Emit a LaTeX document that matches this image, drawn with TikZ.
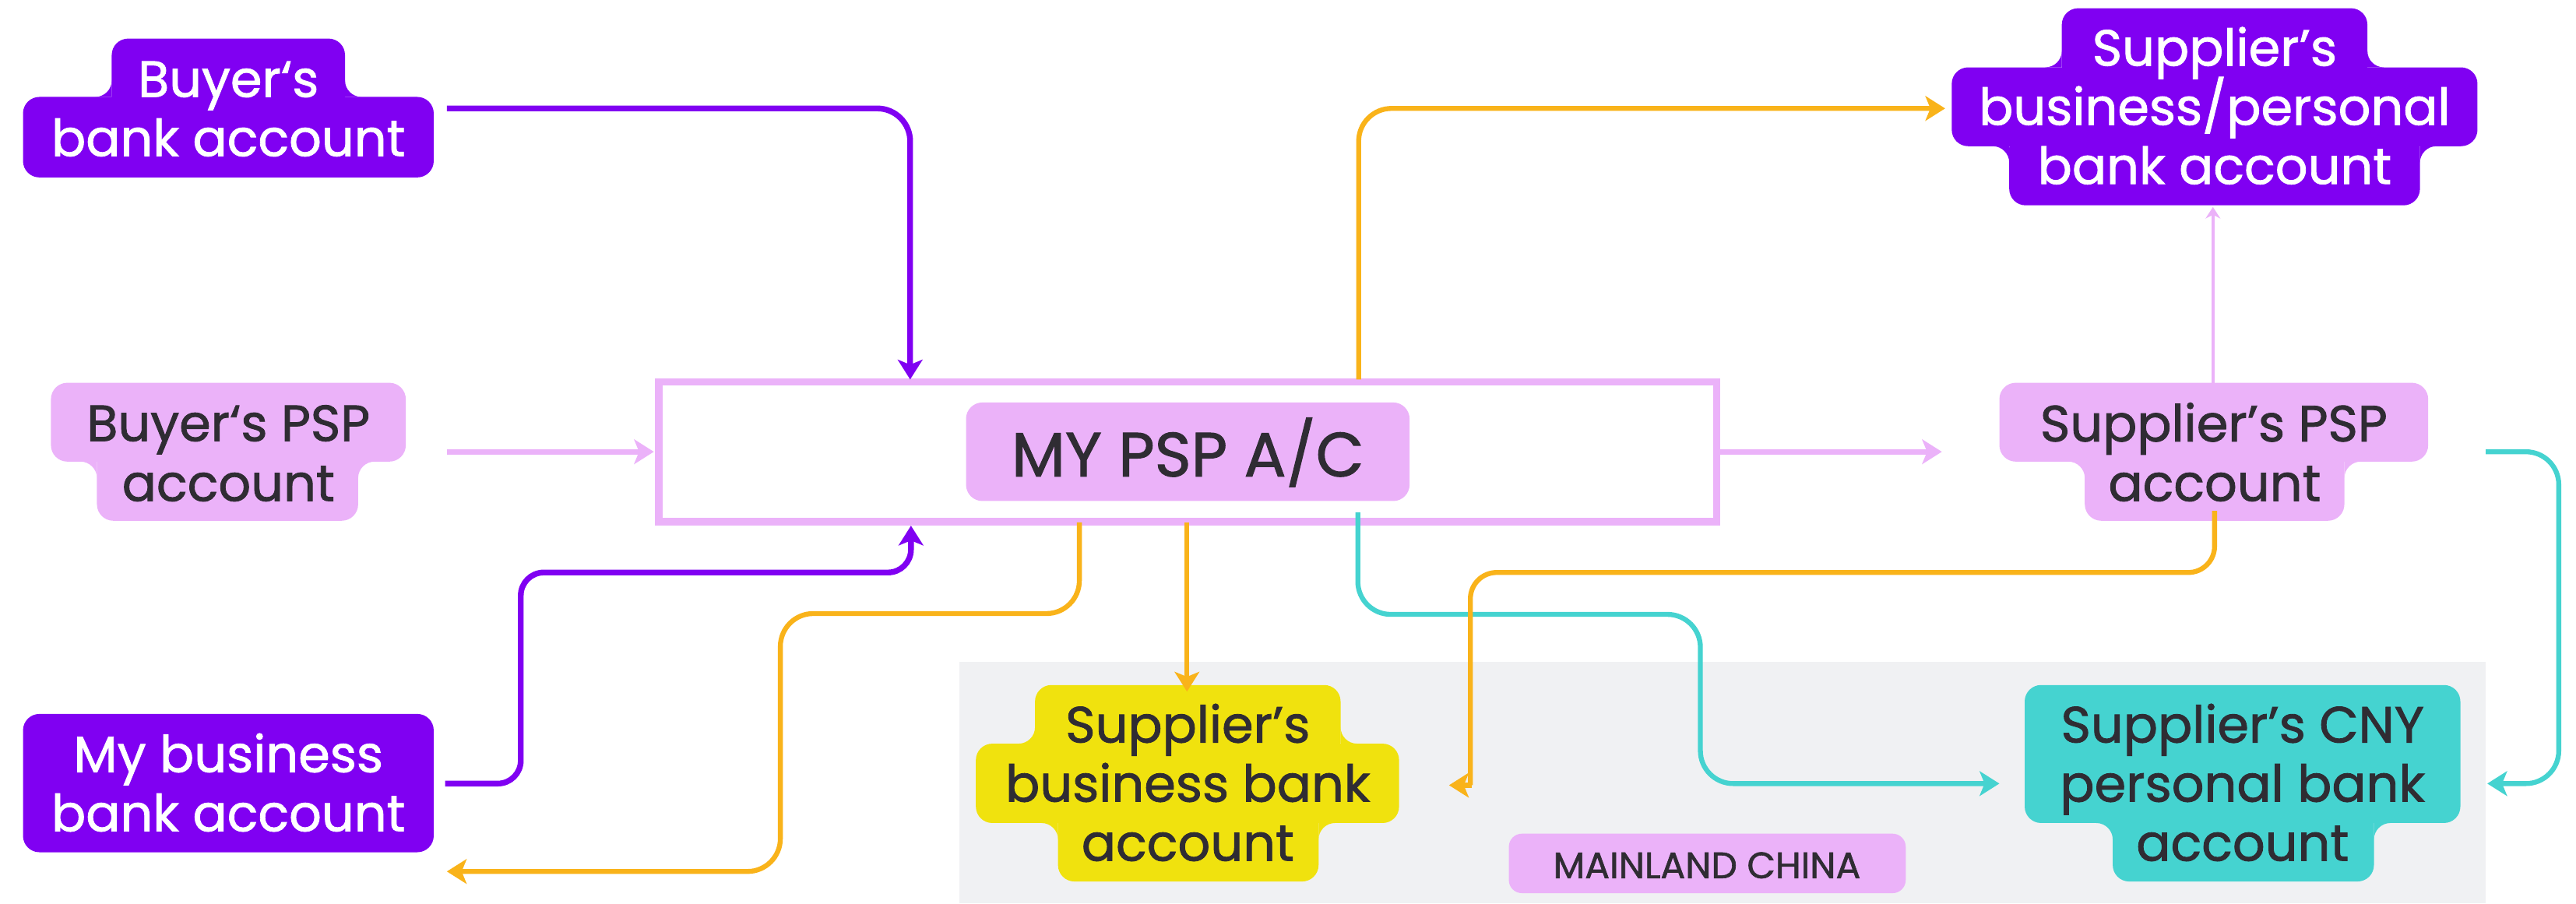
\documentclass[tikz,border=0pt]{standalone}
\usepackage{fontspec}
\setmainfont{Poppins}[FakeBold=1.3]
\usetikzlibrary{arrows.meta}
\definecolor{vio}{RGB}{128,0,242}
\definecolor{pnk}{RGB}{235,178,249}
\definecolor{ylw}{RGB}{240,226,14}
\definecolor{tea}{RGB}{69,211,208}
\definecolor{org}{RGB}{249,179,26}
\definecolor{gry}{RGB}{240,241,243}
\definecolor{ink}{RGB}{47,44,51}
% concave fillet: colour, x, y, dx, dy
\newcommand{\myfillet}[5]{%
  \fill[#1] ({#2},{#3+(#5)*10}) .. controls ({#2},{#3+(#5)*4.5}) and ({#2+(#4)*4.5},{#3}) .. ({#2+(#4)*10},{#3}) -- ({#2},{#3}) -- cycle;}
\tikzset{
  lbl/.style={anchor=base, inner sep=0pt, font=\fontsize{31}{36}\selectfont},
  wlbl/.style={lbl, text=white},
  dlbl/.style={lbl, text=ink},
  shp/.style={rounded corners=10pt},
  conn/.style={line width=3pt, rounded corners=20pt, -{Stealth[length=12pt,width=15pt,inset=3pt]}},
}
\begin{document}
\begin{tikzpicture}[x=1pt,y=-1pt]
\useasboundingbox (0,0) rectangle (1568,550);
% mainland china region
\fill[gry] (584,403) rectangle (1513,550);

% central box
\draw[pnk, line width=4.5pt] (401,232.5) rectangle (1045,317.5);
\fill[pnk, shp] (588,245) rectangle (858,305);
\node[dlbl, font=\fontsize{38}{44}\selectfont] (psp) at (723,290) {MY PSP A/C};

% Buyer's bank account
\fill[vio, shp] (68,23.5) rectangle (210,70);
\fill[vio, shp] (14,59) rectangle (264,108);
\myfillet{vio}{68}{59}{-1}{-1}
\myfillet{vio}{210}{59}{1}{-1}
\node[wlbl] (bba1) at (139,59) {Buyer‘s};
\node[wlbl] (bba2) at (139,95) {bank account};

% Buyer's PSP account
\fill[pnk, shp] (31,233) rectangle (247,281);
\fill[pnk, shp] (59,270) rectangle (218,317);
\myfillet{pnk}{59}{281}{-1}{1}
\myfillet{pnk}{218}{281}{1}{1}
\node[dlbl] (bpsp1) at (139,268.5) {Buyer‘s PSP};
\node[dlbl] (bpsp2) at (139,305) {account};

% Supplier's PSP account
\fill[pnk, shp] (1217,233) rectangle (1478,281);
\fill[pnk, shp] (1269,270) rectangle (1427,317);
\myfillet{pnk}{1269}{281}{-1}{1}
\myfillet{pnk}{1427}{281}{1}{1}
\node[dlbl] (spsp1) at (1347.5,268.7) {Supplier’s PSP};
\node[dlbl] (spsp2) at (1348,305) {account};

% Supplier's business/personal bank account
\fill[vio, shp] (1255,5) rectangle (1441,50);
\fill[vio, shp] (1188,41) rectangle (1508,89);
\fill[vio, shp] (1223,80) rectangle (1473,125);
\myfillet{vio}{1255}{41}{-1}{-1}
\myfillet{vio}{1441}{41}{1}{-1}
\myfillet{vio}{1223}{89}{-1}{1}
\myfillet{vio}{1473}{89}{1}{1}
\node[wlbl] (sbp1) at (1348,40) {Supplier’s};
\node[wlbl] (sbp2) at (1348,76) {business/personal};
\node[wlbl] (sbp3) at (1348,112) {bank account};

% My business bank account
\fill[vio, shp] (14,434.6) rectangle (264,518.8);
\node[wlbl] (mbb1) at (139,470) {My business};
\node[wlbl] (mbb2) at (139,506) {bank account};

% Supplier's business bank account (yellow)
\fill[ylw, shp] (630,417) rectangle (816,462);
\fill[ylw, shp] (594,452.7) rectangle (851.6,501);
\fill[ylw, shp] (644,490) rectangle (802.6,536.6);
\myfillet{ylw}{630}{452.7}{-1}{-1}
\myfillet{ylw}{816}{452.7}{1}{-1}
\myfillet{ylw}{644}{501}{-1}{1}
\myfillet{ylw}{802.6}{501}{1}{1}
\node[dlbl] (sbb1) at (723,452) {Supplier’s};
\node[dlbl] (sbb2) at (723,488) {business bank};
\node[dlbl] (sbb3) at (723,524) {account};

% Supplier's CNY personal bank account (teal)
\fill[tea, shp] (1232.4,417) rectangle (1497.6,501);
\fill[tea, shp] (1286,490) rectangle (1445,536.6);
\myfillet{tea}{1286}{501}{-1}{1}
\myfillet{tea}{1445}{501}{1}{1}
\node[dlbl] (cny1) at (1365,452) {Supplier’s CNY};
\node[dlbl] (cny2) at (1365,488) {personal bank};
\node[dlbl] (cny3) at (1365,524) {account};

% Mainland China label
\fill[pnk, rounded corners=8pt] (918.4,507.5) rectangle (1160,543.7);
\node[dlbl, font=\fontsize{22.4}{26}\selectfont] (mc) at (1039,534.6) {MAINLAND CHINA};

% connector end points
\coordinate (bbaE) at (272,66);
\coordinate (boxT1) at (554,231);
\coordinate (bpspE) at (272,275);
\coordinate (boxL) at (398,275);
\coordinate (boxR) at (1047,275);
\coordinate (spspW) at (1182,275);
\coordinate (boxT2) at (827,231);
\coordinate (sbpW) at (1184,66);
\coordinate (spspN) at (1347,233);
\coordinate (sbpS) at (1347,126);
\coordinate (spspE) at (1513,275);
\coordinate (cnyE) at (1514,477);
\coordinate (boxB3) at (826.5,312);
\coordinate (cnyW) at (1217,477);
\coordinate (spspS) at (1348,311);
\coordinate (sbbE0) at (895,478);
\coordinate (sbbE) at (882,478);
\coordinate (boxB1) at (657,318);
\coordinate (mbbS) at (272,530.5);
\coordinate (boxB2) at (722.5,318);
\coordinate (sbbN) at (722.5,421);
\coordinate (mbbE) at (271,477);
\coordinate (boxB0) at (554.5,320);

% connectors
\draw[conn, vio, line width=3.5pt] (bbaE) -| (boxT1);
\draw[conn, pnk, line width=3.2pt] (bpspE) -- (boxL);
\draw[conn, pnk, line width=3.2pt] (boxR) -- (spspW);
\draw[conn, org] (boxT2) |- (sbpW);
\draw[pnk, line width=2pt, -{Stealth[length=7pt,width=9pt]}] (spspN) -- (sbpS);
\draw[conn, tea] (spspE) -- (1557.5,275) -- (1557.5,477) -- (cnyE);
\draw[conn, tea] (boxB3) -- (826.5,374) -- (1035,374) -- (1035,477) -- (cnyW);
\draw[org, line width=3pt, rounded corners=16pt] (spspS) -- (1348,348.5) -- (895,348.5) -- (sbbE0);
\draw[conn, org] (896,478) -- (sbbE);
\draw[conn, org] (boxB1) -- (657,373.5) -- (475,373.5) -- (475,530.5) -- (mbbS);
\draw[conn, org] (boxB2) -- (sbbN);
\draw[conn, vio, line width=3.5pt, rounded corners=14pt] (mbbE) -- (317,477) -- (317,348.5) -- (554.5,348.5) -- (boxB0);
\end{tikzpicture}
\end{document}
